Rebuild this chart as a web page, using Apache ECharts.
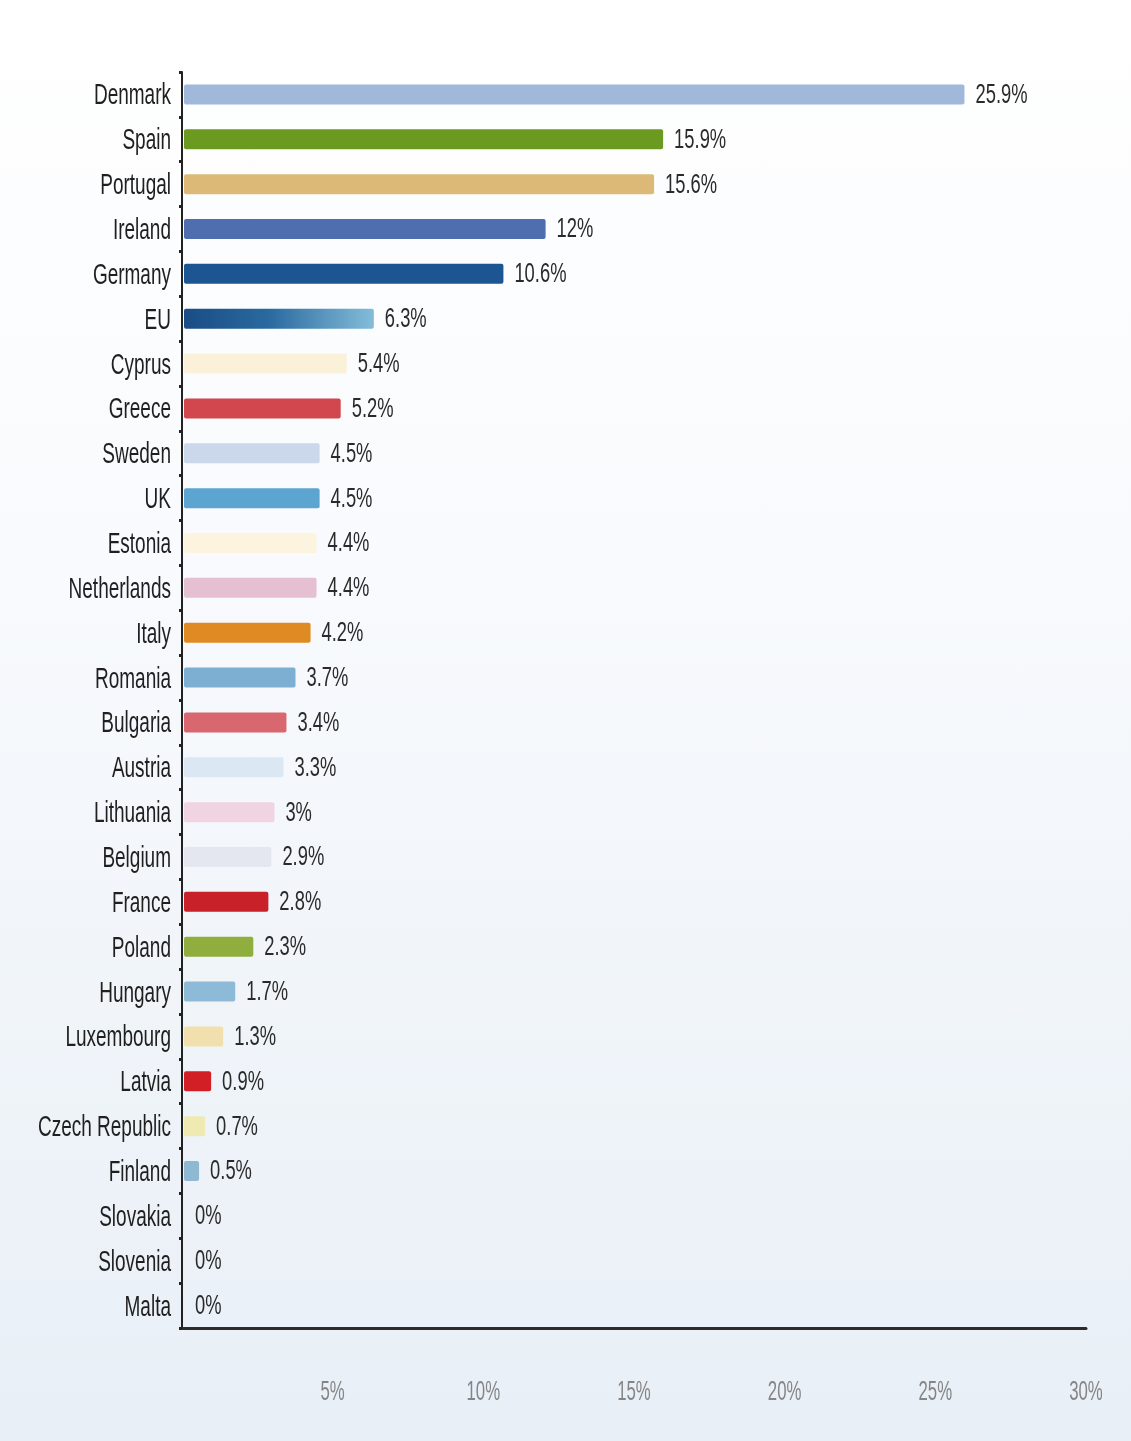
<!DOCTYPE html>
<html>
<head>
<meta charset="utf-8">
<script src="https://cdn.jsdelivr.net/npm/echarts@6/dist/echarts.min.js"></script>
<style>
  html, body { margin: 0; padding: 0; }
  body { width: 1131px; height: 1441px;
         background: linear-gradient(180deg, #ffffff 0%, #f8fafd 40%, #e8eff6 100%); }
  #chart { width: 1131px; height: 1441px; }
</style>
</head>
<body>
<div id="chart"></div>
<script>
// Countries, top to bottom
const countries = ['Denmark', 'Spain', 'Portugal', 'Ireland', 'Germany', 'EU', 'Cyprus', 'Greece',
  'Sweden', 'UK', 'Estonia', 'Netherlands', 'Italy', 'Romania', 'Bulgaria', 'Austria', 'Lithuania',
  'Belgium', 'France', 'Poland', 'Hungary', 'Luxembourg', 'Latvia', 'Czech Republic', 'Finland',
  'Slovakia', 'Slovenia', 'Malta'];

// Share, in percent
const shares = [25.9, 15.9, 15.6, 12, 10.6, 6.3, 5.4, 5.2, 4.5, 4.5, 4.4, 4.4, 4.2, 3.7, 3.4, 3.3,
  3, 2.9, 2.8, 2.3, 1.7, 1.3, 0.9, 0.7, 0.5, 0, 0, 0];

// Bar colours, one per country ('EU' gets a gradient)
const barColors = ['#a0b8da', '#6b9a20', '#ddb978', '#4e6eb0', '#1d5592', 'EU', '#fbf1d8', '#d2464e',
  '#cbd7eb', '#5ca5d0', '#fdf4df', '#e5c0d3', '#df8a22', '#7cafd1', '#d9676f', '#dce7f4', '#f1d4e1',
  '#e4e7f0', '#c8212a', '#90ae3d', '#8dbbd7', '#f1dfae', '#d11f25', '#efeab1', '#8fb8d3', '#ccc', '#ccc', '#ccc'];

// X axis tick labels
const tickValues = [5, 10, 15, 20, 25, 30];

const FONT = '"Liberation Sans", Arial, sans-serif';
const GRID = { left: 182, right: 45, top: 72, bottom: 113 };

const euGradient = new echarts.graphic.LinearGradient(0, 0, 1, 0, [
  { offset: 0, color: '#1a4c85' },
  { offset: 0.45, color: '#2a6aa0' },
  { offset: 1, color: '#84bdd9' }
]);

function renderBar(params, api) {
  const idx = api.value(1);
  const val = api.value(0);
  const start = api.coord([0, idx]);
  const end = api.coord([val, idx]);
  const h = 20;
  const color = barColors[idx] === 'EU' ? euGradient : barColors[idx];
  const children = [];
  if (val > 0) {
    children.push({
      type: 'rect',
      shape: { x: start[0] + 2, y: start[1] - h / 2, width: end[0] - start[0], height: h, r: 2 },
      style: { fill: color }
    });
  }
  // value label
  children.push({
    type: 'text',
    x: Math.max(end[0], start[0]) + 13,
    y: start[1] + 1,
    scaleX: 0.68,
    style: {
      text: val + '%', font: '27px ' + FONT, fill: '#2a2a2a',
      align: 'left', verticalAlign: 'middle'
    }
  });
  // category label
  children.push({
    type: 'text',
    x: start[0] - 11,
    y: start[1] + 2,
    scaleX: 0.655,
    style: {
      text: countries[idx], font: '29px ' + FONT, fill: '#1f1f1f',
      align: 'right', verticalAlign: 'middle'
    }
  });
  return { type: 'group', children };
}

const chart = echarts.init(document.getElementById('chart'), null, { renderer: 'canvas' });

chart.setOption({
  backgroundColor: 'transparent',
  animation: false,
  grid: Object.assign({ containLabel: false, outerBoundsMode: 'none' }, GRID),
  xAxis: {
    type: 'value',
    min: 0,
    max: 30,
    interval: 5,
    axisLine: { show: true, lineStyle: { color: '#2b2b2b', width: 3 } },
    axisTick: { show: false },
    splitLine: { show: false },
    axisLabel: { show: false }
  },
  yAxis: {
    type: 'category',
    inverse: true,
    data: countries,
    axisLine: { show: true, lineStyle: { color: '#222', width: 2 } },
    axisTick: { show: true, length: 3, lineStyle: { color: '#222', width: 3 } },
    axisLabel: { show: false }
  },
  series: [{
    type: 'custom',
    renderItem: renderBar,
    encode: { x: 0, y: 1 },
    data: shares.map((v, i) => [v, i])
  }]
});

// Condensed tick labels beneath the value axis
const axisY = chart.getHeight() - GRID.bottom;
chart.setOption({
  graphic: tickValues.map(v => ({
    type: 'text',
    x: chart.convertToPixel({ xAxisIndex: 0 }, v),
    y: axisY + 64,
    scaleX: 0.6,
    style: {
      text: v + '%', font: '28px ' + FONT, fill: '#858585',
      align: 'center', verticalAlign: 'middle'
    }
  }))
});
</script>
</body>
</html>
